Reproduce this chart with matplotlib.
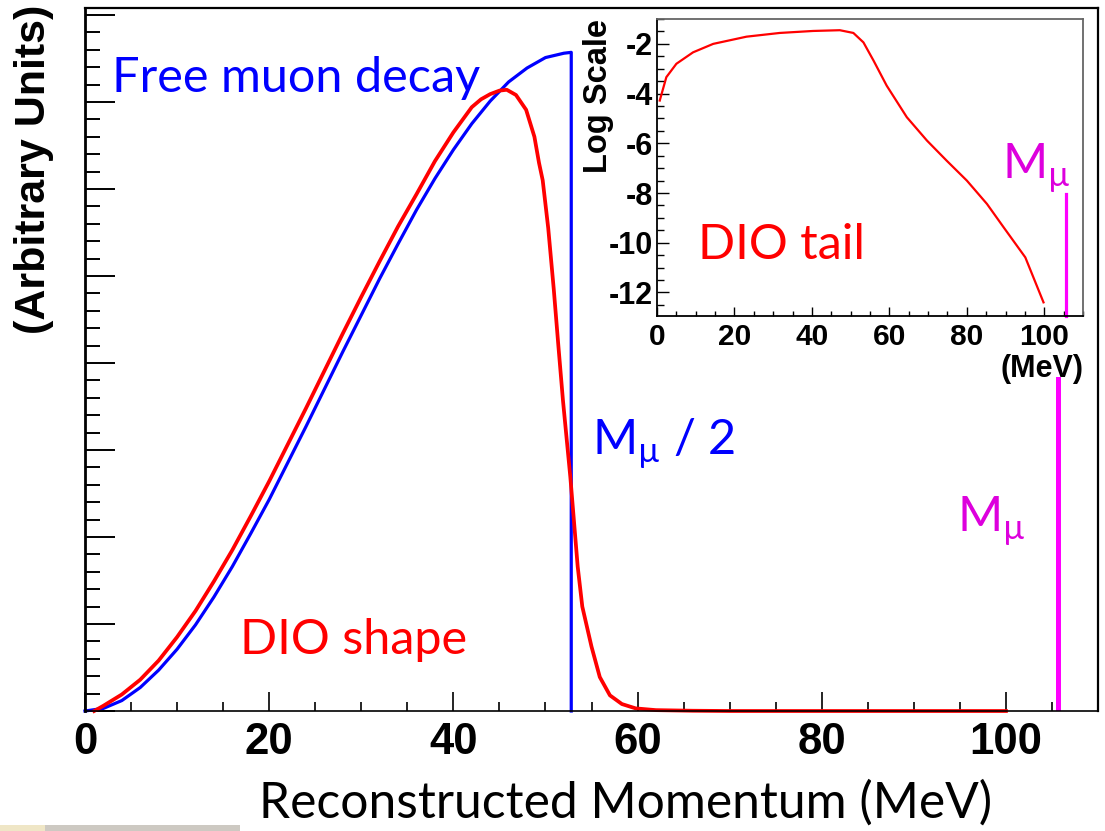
import matplotlib
matplotlib.use("Agg")
import matplotlib.pyplot as plt
from matplotlib.patches import Rectangle
from matplotlib.ticker import MultipleLocator

plt.rcParams['font.family'] = ['Liberation Sans', 'DejaVu Sans']
plt.rcParams['axes.unicode_minus'] = False
plt.rcParams['mathtext.fontset'] = 'custom'
plt.rcParams['mathtext.rm'] = 'Lato:weight=normal'

# free muon decay spectrum (blue), arbitrary units
free_p = [0, 2, 4, 6, 8, 10, 12, 14, 16, 18, 20, 22, 24, 26, 28, 30, 32, 34, 36,
          38, 40, 42, 44, 46, 48, 50, 52, 52.8, 52.8]
free_y = [0, 0.03, 0.12, 0.27, 0.47, 0.71, 0.99, 1.31, 1.66, 2.04, 2.43, 2.85, 3.27,
          3.70, 4.13, 4.55, 4.97, 5.37, 5.76, 6.12, 6.45, 6.75, 7.01, 7.23, 7.39,
          7.51, 7.56, 7.57, 0]

# DIO shape (red), arbitrary units
dio_p = [1, 2, 4, 6, 8, 10, 12, 14, 16, 18, 20, 22, 24, 26, 28, 30, 32, 34, 36, 38,
         40, 42, 43, 44, 45, 45.8, 46.8, 47.9, 48.8, 49.3, 49.7, 50.3, 50.9, 51.4,
         51.9, 52.7, 53.5, 54.0, 55.0, 55.9, 57.0, 58.3, 59.8, 62, 66, 70, 100]
dio_y = [0, 0.06, 0.19, 0.36, 0.58, 0.85, 1.15, 1.49, 1.85, 2.24, 2.64, 3.06, 3.48,
         3.91, 4.34, 4.76, 5.17, 5.57, 5.94, 6.32, 6.65, 6.94, 7.03, 7.09, 7.13, 7.14,
         7.08, 6.91, 6.60, 6.30, 6.10, 5.55, 4.85, 4.20, 3.57, 2.69, 1.66, 1.20, 0.74,
         0.39, 0.18, 0.08, 0.03, 0.01, 0.003, 0, 0]

# DIO tail on log scale (inset)
tail_p = [0.7, 2.4, 5.0, 9.3, 14.5, 23.1, 31.7, 40.3, 47.2, 50.7, 53.3, 55.9, 59.3,
          64.5, 69.7, 74.8, 80.0, 85.2, 89.5, 95.1, 99.8]
tail_log = [-4.28, -3.34, -2.80, -2.34, -2.00, -1.71, -1.56, -1.48, -1.45, -1.56,
            -1.94, -2.67, -3.68, -4.95, -5.89, -6.70, -7.50, -8.44, -9.38, -10.59,
            -12.40]

m_mu = 105.6
m_mu_inset_top = -8.05

main_xticks = [0, 20, 40, 60, 80, 100]
main_xlabels = ['0', '20', '40', '60', '80', '100']
inset_yticks = [-12, -10, -8, -6, -4, -2]
inset_ylabels = ['-12', '-10', '-8', '-6', '-4', '-2']

BLUE = '#0000ff'
RED = '#ff0000'
MAGENTA = '#ff00ff'
MAG_TEXT = '#dd00dd'
ann = dict(family='Lato', fontweight='normal', fontsize=35)

fig = plt.figure(figsize=(11.05, 8.31), dpi=100)
ax = fig.add_axes([0.0769, 0.1444, 0.9168, 0.8460])

ax.plot(free_p, free_y, color=BLUE, lw=2.3, clip_on=False, zorder=2)
ax.plot(dio_p, dio_y, color=RED, lw=2.7, clip_on=False, zorder=2.05)
ax.axvline(m_mu, color=MAGENTA, lw=3.6, zorder=2.1)

ax.set_xlim(0, 110)
ax.set_ylim(0, 8.08)
ax.set_xticks(main_xticks, labels=main_xlabels, fontsize=31.5, fontweight='bold')
ax.xaxis.set_minor_locator(MultipleLocator(5))
ax.set_yticks(range(9))
ax.yaxis.set_minor_locator(MultipleLocator(0.2))
ax.tick_params(axis='x', which='major', direction='in', length=13.5, width=1.2, pad=8)
ax.tick_params(axis='x', which='minor', direction='in', length=6.5, width=1.2)
ax.tick_params(axis='y', which='major', direction='in', length=21.5, width=1.4, labelleft=False)
ax.tick_params(axis='y', which='minor', direction='in', length=10.8, width=1.4)
ax.spines['left'].set_linewidth(2.0)
ax.spines['top'].set_linewidth(1.6)
ax.spines['right'].set_linewidth(1.6)
ax.spines['bottom'].set_linewidth(1.2)

ax.text(-0.050, 0.770, '(Arbitrary Units)', transform=ax.transAxes, rotation=90,
        ha='center', va='center', fontsize=31, fontweight='bold')
ax.text(0.534, -0.131, 'Reconstructed Momentum (MeV)', transform=ax.transAxes,
        ha='center', va='center', family='Lato', fontweight='normal', fontsize=35.8)

ax.text(2.9, 7.11, 'Free muon decay', color=BLUE, va='baseline', **ann)
ax.text(55.1, 2.94, 'M$_{\\mathrm{µ}}$ / 2', color=BLUE, va='baseline', **ann)
ax.text(16.8, 0.655, 'DIO shape', color=RED, va='baseline', **ann)
ax.text(94.7, 2.06, 'M$_{\\mathrm{µ}}$', color=MAG_TEXT, va='baseline', **ann)

# white panel behind the inset
ax.add_patch(Rectangle((53.7, 3.84), 110 - 53.7, 8.08 - 3.84, facecolor='white',
                       edgecolor='none', zorder=2.3))

# inset: log scale tail
axi = fig.add_axes([0.5946, 0.6197, 0.3855, 0.3574])
axi.plot(tail_p, tail_log, color=RED, lw=1.6)
axi.plot([m_mu, m_mu], [m_mu_inset_top, -12.95], color=MAGENTA, lw=2.3, clip_on=False)
axi.set_xlim(0, 110)
axi.set_ylim(-12.95, -1.0)
axi.set_xticks(main_xticks, labels=main_xlabels, fontsize=21.5, fontweight='bold')
axi.xaxis.set_minor_locator(MultipleLocator(5))
axi.set_yticks(inset_yticks, labels=inset_ylabels, fontsize=22, fontweight='bold')
axi.yaxis.set_minor_locator(MultipleLocator(0.5))
axi.tick_params(axis='x', which='major', direction='in', length=6.5, width=1.0, pad=5)
axi.tick_params(axis='x', which='minor', direction='in', length=3.3, width=1.0)
axi.tick_params(axis='y', which='major', direction='in', length=8.5, width=1.0, pad=3)
axi.tick_params(axis='y', which='minor', direction='in', length=5.0, width=1.0)
for side in ['left', 'bottom']:
    axi.spines[side].set_linewidth(1.3)
for side in ['top', 'right']:
    axi.spines[side].set_linewidth(1.3)
    axi.spines[side].set_color('#666666')

axi.text(-0.137, 0.742, 'Log Scale', transform=axi.transAxes, rotation=90,
         ha='center', va='center', fontsize=23.5, fontweight='bold')
axi.text(1.0, -0.178, '(MeV)', transform=axi.transAxes, ha='right', va='center',
         fontsize=22, fontweight='bold')
axi.text(10.6, -10.65, 'DIO tail', color=RED, va='baseline', **ann)
axi.text(89.1, -7.43, 'M$_{\\mathrm{µ}}$', color=MAG_TEXT, va='baseline', **ann)

# slide remnant at the bottom left
fig.patches.append(Rectangle((0, 0), 240 / 1105, 6 / 831, transform=fig.transFigure,
                             facecolor='#cdc9c2', edgecolor='none'))
fig.patches.append(Rectangle((0, 0), 45 / 1105, 6 / 831, transform=fig.transFigure,
                             facecolor='#efe6c6', edgecolor='none'))

fig.savefig('out.png', dpi=100)
